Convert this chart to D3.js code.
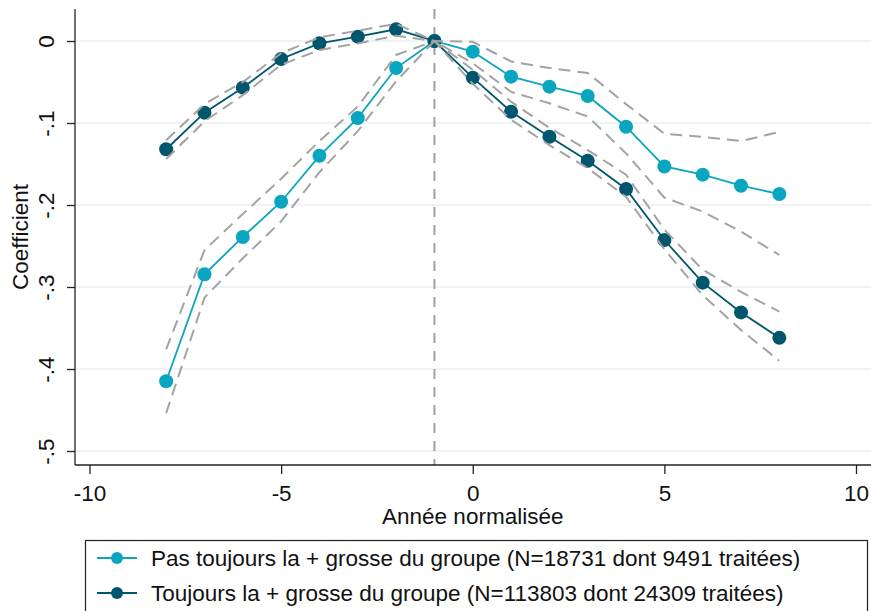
<!DOCTYPE html>
<html><head><meta charset="utf-8">
<script src="https://cdn.jsdelivr.net/npm/d3@7"></script>
<style>body{margin:0;background:#fff}svg{display:block}text{font-family:"Liberation Sans",Arial,sans-serif;fill:#111}</style>
</head><body>
<script>
const years = [-8,-7,-6,-5,-4,-3,-2,-1,0,1,2,3,4,5,6,7,8];
const s1 = [-0.415,-0.2845,-0.239,-0.196,-0.140,-0.094,-0.033,0,-0.013,-0.0435,-0.0557,-0.067,-0.1045,-0.153,-0.163,-0.1765,-0.1866];
const s1Hi = [-0.376,-0.255,-0.211,-0.168,-0.122,-0.080,-0.017,0,-0.001,-0.025,-0.033,-0.039,-0.077,-0.113,-0.117,-0.122,-0.111];
const s1Lo = [-0.454,-0.313,-0.265,-0.220,-0.160,-0.110,-0.049,0,-0.027,-0.062,-0.076,-0.092,-0.137,-0.191,-0.208,-0.2325,-0.261];
const s2 = [-0.132,-0.0874,-0.0569,-0.022,-0.0028,0.0053,0.0143,0,-0.0447,-0.0862,-0.1167,-0.146,-0.1805,-0.2427,-0.2947,-0.331,-0.362];
const s2Hi = [-0.121,-0.077,-0.050,-0.015,0.0045,0.0126,0.021,0,-0.035,-0.074,-0.106,-0.133,-0.163,-0.230,-0.279,-0.306,-0.330];
const s2Lo = [-0.144,-0.098,-0.066,-0.029,-0.011,-0.003,0.0065,0,-0.052,-0.096,-0.127,-0.155,-0.190,-0.254,-0.310,-0.3525,-0.390];
const xTicks = [-10,-5,0,5,10];
const yTicks = [0,-0.1,-0.2,-0.3,-0.4,-0.5];
const yTickLabels = ["0","-.1","-.2","-.3","-.4","-.5"];
const refYear = -1;
const legendLabels = ["Pas toujours la + grosse du groupe (N=18731 dont 9491 traitées)",
                      "Toujours la + grosse du groupe (N=113803 dont 24309 traitées)"];
const colors = ["#0aa6c0","#00566d"];

const W=871,H=611;
const FS=22.5;
const svg=d3.select("body").append("svg").attr("width",W).attr("height",H);
const x=d3.scaleLinear().domain([-10,10]).range([89.5,856]);
const y=d3.scaleLinear().domain([-0.5,0]).range([451,41]);
const pLeft=75, pRight=871, pTop=9, pBottom=465;

// gridlines
svg.append("g").selectAll("line").data(yTicks).join("line")
  .attr("x1",pLeft).attr("x2",pRight).attr("y1",d=>y(d)).attr("y2",d=>y(d))
  .attr("stroke","#e9f1f3").attr("stroke-width",1.6);

// reference vertical line
svg.append("line").attr("x1",x(refYear)).attr("x2",x(refYear)).attr("y1",pTop).attr("y2",pBottom)
  .attr("stroke","#a0a0a0").attr("stroke-width",2).attr("stroke-dasharray","10,8");

// axes
const yAxis=d3.axisLeft(y).tickValues(yTicks).tickFormat((d,i)=>yTickLabels[i]).tickSize(8).tickSizeOuter(0);
const gy=svg.append("g").attr("transform",`translate(${pLeft},0)`).call(yAxis);
gy.select(".domain").attr("d",`M0,${pTop}V${pBottom}`).attr("stroke","#222").attr("stroke-width",1.3);
gy.selectAll(".tick line").attr("stroke","#222").attr("stroke-width",1.3);
gy.selectAll(".tick text").attr("font-size",FS).attr("fill","#111").attr("text-anchor","middle")
  .attr("transform","rotate(-90)").attr("x",0).attr("y",-21).attr("dy","0");

const xAxis=d3.axisBottom(x).tickValues(xTicks).tickFormat(d=>d<0?"-"+Math.abs(d):String(d)).tickSize(9).tickSizeOuter(0);
const gx=svg.append("g").attr("transform",`translate(0,${pBottom})`).call(xAxis);
gx.select(".domain").attr("d",`M${pLeft},0H${pRight}`).attr("stroke","#222").attr("stroke-width",1.3);
gx.selectAll(".tick line").attr("stroke","#222").attr("stroke-width",1.3);
gx.selectAll(".tick text").attr("font-size",FS).attr("fill","#111").attr("y",36).attr("dy","0");

// axis titles
svg.append("text").attr("transform",`translate(28,237) rotate(-90)`).attr("text-anchor","middle")
  .attr("font-size",FS).text("Coefficient");
svg.append("text").attr("x",x(0)).attr("y",524).attr("text-anchor","middle").attr("font-size",FS).text("Année normalisée");

const line=d3.line().x((d,i)=>x(years[i])).y(d=>y(d));
const series=[s1,s2];
series.forEach((s,k)=>{
  svg.append("path").attr("d",line(s)).attr("fill","none").attr("stroke",colors[k]).attr("stroke-width",1.8);
  svg.append("g").selectAll("circle").data(s).join("circle")
    .attr("cx",(d,i)=>x(years[i])).attr("cy",d=>y(d)).attr("r",7).attr("fill",colors[k]);
});
[s1Hi,s1Lo,s2Hi,s2Lo].forEach(s=>{
  svg.append("path").attr("d",line(s)).attr("fill","none").attr("stroke","#a3a3a3")
    .attr("stroke-width",2).attr("stroke-dasharray","12,7");
});

// legend
svg.append("rect").attr("x",85.5).attr("y",540.5).attr("width",782).attr("height",80)
  .attr("fill","#fff").attr("stroke","#222").attr("stroke-width",1.2);
legendLabels.forEach((t,k)=>{
  const ly=558+k*35;
  svg.append("line").attr("x1",97).attr("x2",137).attr("y1",ly).attr("y2",ly).attr("stroke",colors[k]).attr("stroke-width",2);
  svg.append("circle").attr("cx",117).attr("cy",ly).attr("r",6).attr("fill",colors[k]);
  svg.append("text").attr("x",151).attr("y",ly+8).attr("font-size",FS).text(t);
});
</script>
</body></html>
